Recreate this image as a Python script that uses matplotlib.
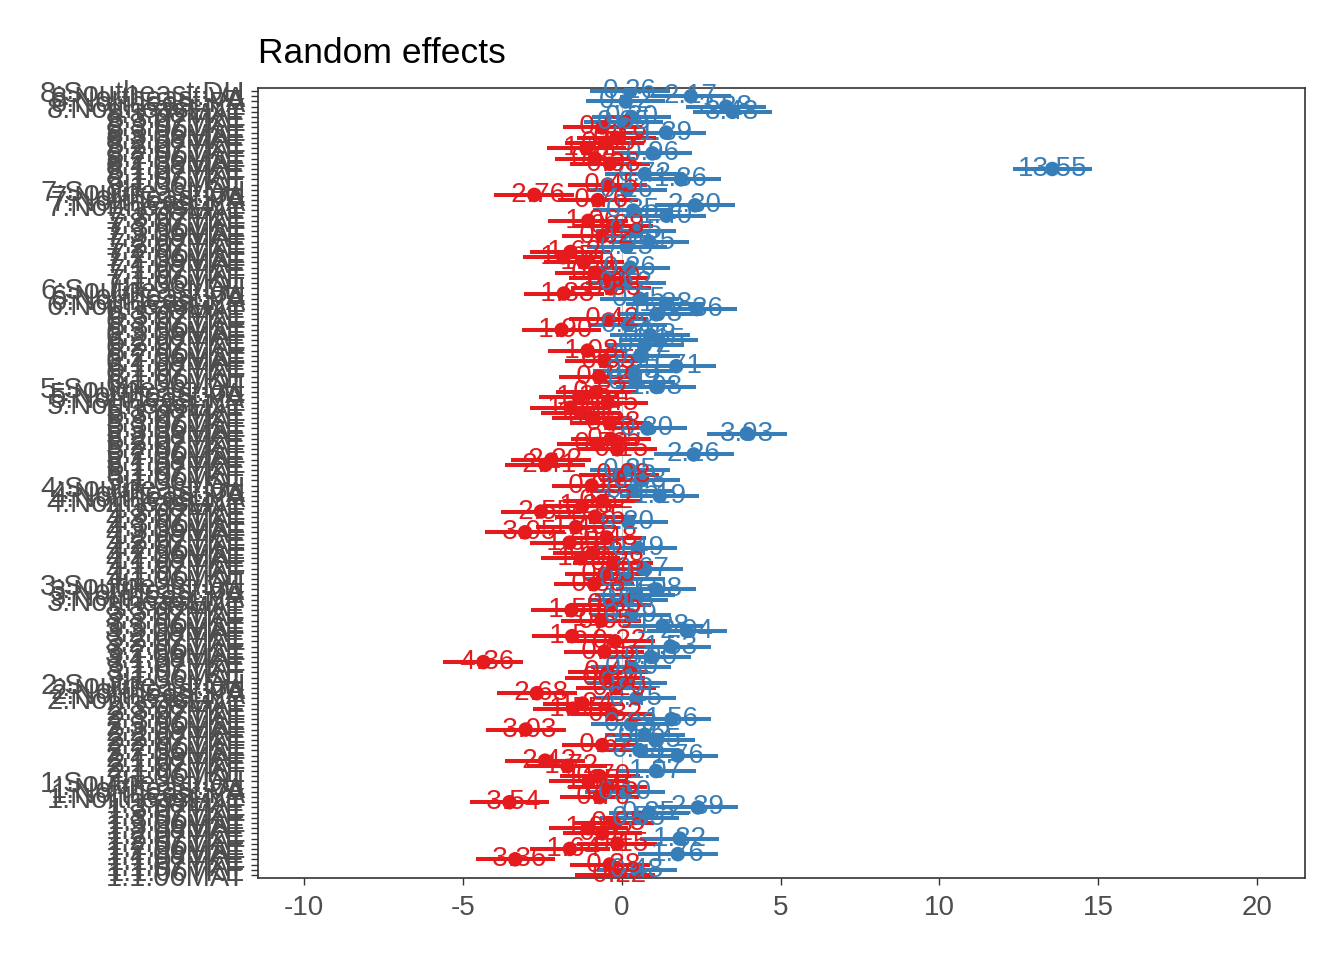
import numpy as np
import matplotlib
matplotlib.use("Agg")
import matplotlib.pyplot as plt

plt.rcParams['font.family'] = ['Liberation Sans', 'DejaVu Sans']

# level names inside each group (bottom -> top)
suffixes = ['1:06MAT', '1:06TKE', '1:07MAT', '1:07TKE', '1:08MAT',
            '2:06MAT', '2:06TKE', '2:07MAT', '2:07TKE', '2:08MAT',
            '3:06MAT', '3:06TKE', '3:07MAT', '3:07TKE', '3:08MAT',
            'Northeast:NY', 'Northeast:PA', 'Northeast:VA', 'Southeast:DH']

# estimates per group, same order as suffixes
g1 = [-0.22, 0.48, -0.38, -3.36, 1.76, -1.64, -0.15, 1.82, -0.62, -1.05,
      -0.25, 0.55, 0.85, 2.39, -3.54, -0.70, 0.10, -0.45, -1.05]
g2 = [-0.70, 1.07, -1.72, -2.42, 1.76, 0.55, -0.62, 1.05, 0.72, -3.03,
      0.28, 1.56, -0.32, -1.55, -1.24, 0.45, -2.68, -0.20, 0.15]
g3 = [-0.52, -0.45, 0.30, -4.36, 0.90, -0.55, 1.53, -0.22, -1.57, 2.04,
      1.28, -0.65, 0.29, -1.59, -0.35, 0.18, 0.42, 1.08, -0.88]
g4 = [0.12, -0.55, 0.67, -0.28, -1.30, -0.92, 0.49, -1.65, -0.48, -3.05,
      -1.45, 0.20, -0.85, -2.55, -1.25, -0.62, 1.19, 0.35, -0.95]
g5 = [0.58, -0.08, 0.25, -2.41, -2.22, 2.26, -0.15, -0.78, -0.35, 3.93,
      0.80, -0.38, -0.95, -1.30, -1.62, -0.45, -1.35, -0.82, 1.08]
g6 = [0.42, -0.72, 0.35, 1.71, -0.55, 0.57, -1.08, 0.72, 1.15, 0.88,
      -1.90, 0.18, -0.42, 1.08, 2.36, 1.38, 0.55, -1.83, -0.35]
g7 = [0.12, -0.40, -0.85, 0.26, -1.20, -1.85, -1.62, 0.15, 0.85, -0.62,
      0.45, -0.28, -1.06, 1.40, 0.35, 2.30, -0.76, -2.76, 0.16]
g8 = [-0.45, 1.86, 0.72, 13.55, -0.38, -0.85, 0.96, -1.12, -0.55, -0.18,
      1.39, -0.62, 0.05, 0.30, 3.48, 3.28, 0.12, 2.17, 0.26]

# half width of the 95% interval, per group
ci_half = [1.25, 1.26, 1.26, 1.25, 1.26, 1.25, 1.26, 1.25]

groups = [g1, g2, g3, g4, g5, g6, g7, g8]

est = []
half = []
labels = []
for i, g in enumerate(groups):
    for s, v in zip(suffixes, g):
        est.append(v)
        half.append(ci_half[i])
        labels.append(f'{i + 1}:{s}')
est = np.array(est)
half = np.array(half)
rows = np.arange(1, len(est) + 1)
cols = np.where(est < 0, '#E41A1C', '#377EB8')

fig = plt.figure(figsize=(13.44, 9.6), dpi=100)
ax = fig.add_axes([258 / 1344, 1 - 878 / 960, (1305 - 258) / 1344, (878 - 88) / 960])

ax.axvline(0, color='#C8C8C8', lw=0.8, zorder=0)

# error bars, then dots, then value labels
ax.hlines(rows, est - half, est + half, colors=cols, lw=2.9, zorder=2)
ax.scatter(est, rows, s=110, c=cols, zorder=3, linewidths=0)
for x, y, c in zip(est, rows, cols):
    ax.text(x, y, f'{x:.2f}', color=c, ha='center', va='center', fontsize=20, zorder=4)

ax.set_xlim(-11.46, 21.51)
ax.set_ylim(0.4, len(est) + 0.6)
ax.set_xticks([-10, -5, 0, 5, 10, 15, 20])
ax.set_xticklabels(['-10', '-5', '0', '5', '10', '15', '20'])
ax.set_yticks(rows)
ax.set_yticklabels(labels)

ax.tick_params(axis='both', colors='#333333', labelcolor='#4D4D4D', labelsize=20,
               length=5, width=1.0, pad=4)
ax.tick_params(axis='x', pad=7)
ax.tick_params(axis='y', labelsize=21)
for sp in ax.spines.values():
    sp.set_color('#333333')
    sp.set_linewidth(1.2)

fig.text(258 / 1344, 1 - 63 / 960, 'Random effects', fontsize=25.5, color='black',
         ha='left', va='baseline')

fig.savefig('out.png', dpi=100)
